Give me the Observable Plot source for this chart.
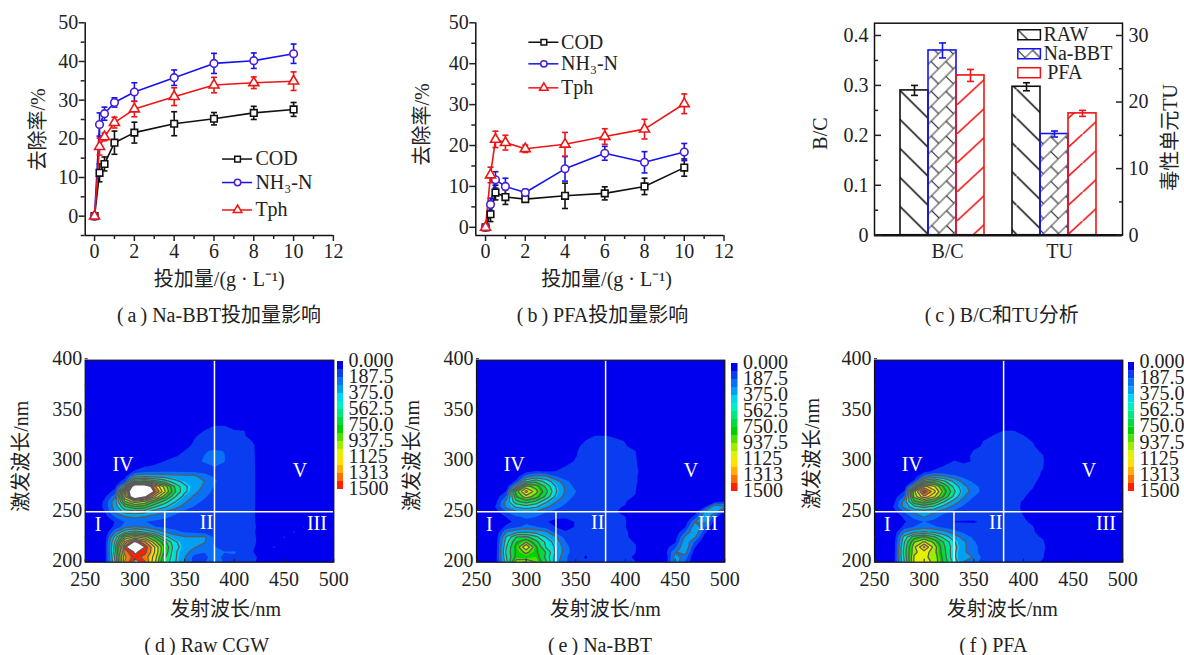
<!DOCTYPE html>
<html lang="zh"><head><meta charset="utf-8">
<style>
html,body{margin:0;padding:0;background:#fff;width:1184px;height:655px;overflow:hidden}
#page{position:relative;width:1184px;height:655px;font-family:'Liberation Serif','Noto Sans CJK SC',serif}
#page>svg,#page>div.p{position:absolute;overflow:visible}
.cap{position:absolute;transform:translate(-50%,calc(-50% - 2px));font-size:20px;white-space:nowrap;color:#222}
</style>
<script src="https://cdn.jsdelivr.net/npm/d3@7"></script>
<script src="https://cdn.jsdelivr.net/npm/@observablehq/plot@0.6"></script>
</head><body><div id="page"></div>
<script>
const FONT="'Liberation Serif','Noto Sans CJK SC',serif";
const doses=[0,0.25,0.5,1,2,4,6,8,10];
const seriesNames=["COD","NH3-N","Tph"];
const seriesLabels=["COD","NH₃-N","Tph"];
const seriesColors=["#111111","#1414f0","#f01414"];
const markerColors=["#111111","#4a1fd8","#f01414"];
const markerSymbols=["square","circle","triangle"];
const bbtCOD=[0,11.2,13.5,19,21.6,23.9,25.2,26.7,27.6];
const bbtCODerr=[0,2.3,1.8,3,2.7,3.1,1.6,1.7,1.8];
const bbtNH3=[0,23.7,26.5,29.4,32.1,35.8,39.5,40.2,42];
const bbtNH3err=[0,3,1.7,1.2,2.4,2,2.6,2,2.5];
const bbtTph=[0,18,20.5,24.2,27.7,30.9,33.9,34.5,34.9];
const bbtTpherr=[0,2.2,1,1.4,2,2.3,2,1.5,2.4];
const pfaCOD=[0,3.2,8.5,7.4,6.9,7.7,8.3,10,14.6];
const pfaCODerr=[0,1.8,1.8,1.8,0.7,3.1,1.6,2,2.1];
const pfaNH3=[0,5.6,11.6,10,8.5,14.3,18.1,15.9,18.4];
const pfaNH3err=[0,1.5,2,2,0.8,3,1.7,2.6,2.1];
const pfaTph=[0,12.8,21.5,20.7,19.2,20.3,22.2,24,30.2];
const pfaTpherr=[0,1.9,2,1.8,0.9,2.9,1.9,2.4,2.4];
const barGroups=["RAW","Na-BBT","PFA"];
const bcValues=[0.29,0.37,0.32];
const bcErr=[0.01,0.015,0.012];
const tuValues=[22.3,15.2,18.3];
const tuErr=[0.6,0.45,0.45];
const colorLevels=[93.75,187.5,281.25,375,468.75,562.5,656.25,750,843.75,937.5,1031.25,1125,1218.75,1312.5,1406.25,1500];
const colorRange=["#0000ee","#0a3cf0","#0a70f5","#00a0f5","#00d8f0","#00f0c0","#00e880","#00dc40","#00d000","#50e000","#a0ec00","#e4f000","#ffe000","#ffb000","#ff7000","#ff2000","#ffffff"];
const lineLevels=[281.25,406,531,656,781,906,1031,1156,1281,1406,1500];
const colorbarTicks=[0,187.5,375,562.5,750,937.5,1125,1312.5,1500];
const colorbarLabels=["0.000","187.5","375.0","562.5","750.0","937.5","1125","1313","1500"];
// excitation rows 200,205,...,340 nm; emission columns 250,260,...,500 nm (omitted tail = 0)
const rawRows=[
[0,0,60,520,1300,1560,1420,1050,620,420,300,150,180,230,180,150,130,100,60,40],
[0,0,60,560,1250,1480,1350,1100,680,430,290,150,170,220,170,170,150,110,50,30],
[0,0,60,600,1350,1520,1450,1150,760,430,320,230,190,190,190,200,130,90,50,60],
[0,0,60,600,1450,1900,1500,1150,780,460,340,290,230,190,170,130,110,95,70,100,60],
[0,0,60,560,1200,1550,1300,950,700,430,330,310,290,170,150,130,110,100,70,40,70],
[0,0,40,450,900,1050,950,750,450,330,290,290,300,170,150,130,110,100,60,30,100,60],
[0,0,20,260,500,600,520,400,280,220,180,170,140,130,130,120,110,100,40,0,40,100,50],
[0,0,10,120,240,290,250,190,170,150,130,120,110,100,100,100,110,105,40,0,0,60,100],
[0,0,20,100,190,210,190,170,150,130,120,110,110,105,105,105,105,100,40],
[0,0,60,200,280,300,280,240,210,170,140,120,110,105,105,105,105,100,30],
[0,0,100,300,450,480,450,340,280,220,170,140,120,110,105,105,105,100,30],
[0,10,130,330,650,780,730,550,430,330,240,180,140,120,110,105,105,100,30],
[0,10,120,360,900,1100,1000,780,600,420,300,220,170,130,115,110,105,100,30],
[0,0,80,250,1150,1800,1550,1150,850,550,360,260,200,150,125,110,105,100,30],
[0,0,40,130,1050,2150,2000,1450,1050,680,430,320,220,170,130,115,105,100,30],
[0,0,20,70,520,1900,1800,1300,980,650,430,340,260,180,140,120,110,100,30],
[0,0,0,30,150,750,800,720,600,450,370,330,280,200,150,125,110,100,30],
[0,0,0,20,60,350,380,370,350,330,320,310,210,180,160,130,110,100,30],
[0,0,0,0,30,110,150,170,170,170,170,170,170,180,160,135,115,100,30],
[0,0,0,0,0,40,90,100,110,120,130,150,170,190,175,140,115,100,20],
[0,0,0,0,0,0,60,80,95,110,130,170,195,205,190,140,115,100,10],
[0,0,0,0,0,0,0,40,70,90,105,150,190,205,190,140,115,100],
[0,0,0,0,0,0,0,0,40,70,95,115,180,200,185,130,110,98],
[0,0,0,0,0,0,0,0,0,40,85,100,130,150,140,120,105,95],
[0,0,0,0,0,0,0,0,0,0,60,97,115,125,120,115,105,90],
[0,0,0,0,0,0,0,0,0,0,20,90,105,115,115,110,100,60],
[0,0,0,0,0,0,0,0,0,0,0,60,97,110,105,100,95,30],
[0,0,0,0,0,0,0,0,0,0,0,0,60,96,95,60],
[]];
const bbtRows=[
[0,0,80,480,1000,1050,900,680,320,200,110,100,120,100,100,110,95,50,30,30,340,180],
[0,0,80,520,820,800,850,620,350,200,110,90,110,100,110,100,90,60,30,20,330,240],
[0,0,70,560,800,950,800,650,380,230,120,100,120,110,100,110,95,40,0,60,270,330,40],
[0,0,70,520,820,1150,800,520,380,220,120,100,105,100,100,120,100,0,0,50,170,380,100],
[0,0,60,480,760,900,700,500,340,190,110,100,110,100,100,105,90,0,0,0,80,370,170],
[0,0,50,420,650,680,560,400,290,140,120,100,100,110,100,100,80,0,0,0,50,300,300,50],
[0,0,30,280,350,390,350,300,150,100,110,100,110,105,100,105,60,0,0,0,20,190,380,110],
[0,0,0,120,170,210,190,140,90,60,100,110,100,110,105,95,30,0,0,0,0,80,370,200],
[0,0,0,60,120,170,140,100,70,60,100,100,100,110,110,100,0,0,0,0,0,30,280,320,40],
[0,0,0,100,180,200,190,130,110,110,105,100,100,105,100,95,0,0,0,0,0,0,130,380,130],
[0,0,70,190,270,290,270,200,160,130,110,105,100,100,98,60,0,0,0,0,0,0,40,300,360,60],
[0,0,110,310,430,480,430,310,220,160,120,105,105,105,100,90,0,0,0,0,0,0,0,90,380,300],
[0,0,80,320,620,720,620,430,290,200,140,115,110,110,105,100,40,0,0,0,0,0,0,0,60,100],
[0,0,50,200,780,980,850,620,380,230,170,125,115,115,110,105,90],
[0,0,20,100,850,1200,950,700,420,260,190,130,115,120,115,110,98],
[0,0,0,40,400,950,860,620,400,250,160,120,115,120,115,105,100,30],
[0,0,0,10,120,500,620,480,330,210,140,115,115,120,115,105,100,70],
[0,0,0,0,30,240,320,300,190,135,120,115,115,120,115,105,100,70],
[0,0,0,0,0,60,100,80,95,110,115,120,125,125,120,110,100,80],
[0,0,0,0,0,0,40,40,70,95,110,120,125,130,125,110,100,70],
[0,0,0,0,0,0,0,0,40,70,100,115,125,130,125,110,100,60],
[0,0,0,0,0,0,0,0,0,50,92,110,120,125,125,110,98,50],
[0,0,0,0,0,0,0,0,0,0,90,110,120,125,120,105,95],
[0,0,0,0,0,0,0,0,0,0,85,105,115,120,115,100,50],
[0,0,0,0,0,0,0,0,0,0,40,98,110,115,110,90],
[0,0,0,0,0,0,0,0,0,0,0,70,97,98,80],
[],[],[]];
const pfaRows=[
[0,0,80,520,1050,1100,1000,750,480,280,240,130,110,100,105,100,100,90,40,20],
[0,0,80,560,1050,1050,1000,720,430,290,280,150,120,110,100,100,105,95,50,30],
[0,0,70,580,1000,1100,960,700,430,300,220,140,110,110,105,100,110,98,60,40],
[0,0,70,560,1000,1300,980,680,450,300,220,140,120,115,105,105,110,100,70,60,40,10,60],
[0,0,60,520,900,1050,880,640,420,300,200,130,115,110,110,110,105,98,30,30,60],
[0,0,50,450,720,800,680,480,340,240,170,120,110,105,110,110,100,90,0,0,30,50],
[0,0,30,280,380,420,380,320,220,170,120,105,105,105,105,105,100,60],
[0,0,0,120,190,230,200,160,140,120,105,100,105,100,100,100,95,30],
[0,0,0,80,150,190,160,110,90,90,90,100,105,105,100,100,85],
[0,0,0,120,220,290,220,150,120,110,105,105,110,105,100,95,70],
[0,0,70,200,300,340,300,220,170,130,115,110,110,110,105,90,50],
[0,0,110,320,500,570,500,360,240,170,130,115,115,115,105,88,40],
[0,0,80,330,750,880,750,540,350,220,150,125,120,115,105,90,50],
[0,0,50,200,950,1250,1050,760,500,290,190,135,125,120,110,100,70],
[0,0,20,100,1000,1500,1200,850,560,340,230,160,130,120,110,100,90,30],
[0,0,0,40,450,1200,1050,760,500,310,220,150,130,125,115,105,95,50],
[0,0,0,10,120,620,720,560,380,240,170,125,125,125,120,110,100,80],
[0,0,0,0,30,230,330,300,210,160,125,120,125,125,120,110,100,90],
[0,0,0,0,0,60,110,100,110,115,115,120,125,125,120,110,100,92],
[0,0,0,0,0,0,60,97,105,110,112,118,125,125,120,110,105,95],
[0,0,0,0,0,0,0,60,98,80,100,115,120,125,120,112,105,98,30],
[0,0,0,0,0,0,0,0,70,85,100,112,120,125,120,112,105,95],
[0,0,0,0,0,0,0,0,0,60,97,110,120,125,120,112,105,85],
[0,0,0,0,0,0,0,0,0,30,80,100,115,120,118,110,100,40],
[0,0,0,0,0,0,0,0,0,0,50,96,110,115,115,108,90],
[0,0,0,0,0,0,0,0,0,0,0,60,100,110,110,100,40],
[0,0,0,0,0,0,0,0,0,0,0,0,70,97,97,60],
[],[]];
const regionNames=["I","II","III","IV","V"];
const regionEm=[263,372,483,288,466];
const regionEx=[237,239,238,297,291];

const page=document.getElementById("page");
const frameStyle={fontFamily:FONT,fontSize:"20px",color:"#222",background:"transparent",overflow:"visible"};
function place(svg,left,top){svg.style.left=left+"px";svg.style.top=top+"px";page.appendChild(svg);return svg;}
function label(text,ml,mt,px,py,rotate=0,size=20,anchor="middle"){
  return Plot.text([text],{text:d=>d,frameAnchor:"top-left",dx:px-ml,dy:py-mt,rotate,fontSize:size,fontFamily:FONT,fill:"#222",textAnchor:anchor,lineAnchor:"middle"});
}
const capSymbol=w=>({draw(c){c.moveTo(-w,0);c.lineTo(w,0);}});
function errorMarks(rows,color,w){
  return [
    Plot.ruleX(rows,{x:"x",y1:d=>d.y-d.e,y2:d=>d.y+d.e,stroke:color,strokeWidth:1.6}),
    Plot.dot(rows,{x:"x",y:d=>d.y+d.e,symbol:capSymbol(w),stroke:color,strokeWidth:1.6,fill:"none",r:3}),
    Plot.dot(rows,{x:"x",y:d=>d.y-d.e,symbol:capSymbol(w),stroke:color,strokeWidth:1.6,fill:"none",r:3})
  ];
}
function linePanel(o){
  const W=395,H=300,mb=H-235,mt=22.3;
  const marks=[];
  const minor=(ticks,anchor,len,xy)=>xy==="x"?Plot.axisX(ticks,{anchor,label:null,tickSize:len,tickFormat:()=>"",strokeWidth:1.5}):Plot.axisY(ticks,{anchor,label:null,tickSize:len,tickFormat:()=>"",strokeWidth:1.5});
  marks.push(Plot.ruleX([o.xd[0]],{y1:o.yd[0],y2:o.yd[1],stroke:"#111",strokeWidth:1.5}));
  marks.push(Plot.ruleY([o.yd[0]],{x1:o.xd[0],x2:o.xd[1],stroke:"#111",strokeWidth:1.5}));
  marks.push(minor([1,3,5,7,9,11],"bottom",4,"x"));
  marks.push(minor([5,15,25,35,45].concat(o.yd[0]<-4?[-5]:[]),"left",4,"y"));
  marks.push(Plot.axisX([0,2,4,6,8,10,12],{anchor:"bottom",tickSize:6,tickPadding:2,fontSize:20,fontFamily:FONT,label:null,strokeWidth:1.5,tickFormat:d=>String(d)}));
  marks.push(Plot.axisY([0,10,20,30,40,50],{anchor:"left",tickSize:6,tickPadding:1,fontSize:20,fontFamily:FONT,label:null,strokeWidth:1.5,tickFormat:d=>String(d)}));
  o.series.forEach((s,i)=>{
    const rows=doses.map((x,k)=>({x,y:s.v[k],e:s.e[k]}));
    marks.push(...errorMarks(rows.slice(1),seriesColors[i],3));
    marks.push(Plot.line(rows,{x:"x",y:"y",stroke:seriesColors[i],strokeWidth:1.6}));
  });
  o.series.forEach((s,i)=>{
    const rows=doses.map((x,k)=>({x,y:s.v[k]}));
    marks.push(Plot.dot(rows,{x:"x",y:"y",symbol:markerSymbols[i],r:i===1?3.8:3.7,stroke:markerColors[i],strokeWidth:1.6,fill:"#fff"}));
  });
  o.legendY.forEach((ly,i)=>{
    marks.push(Plot.ruleY([ly],{x1:o.legendX[0],x2:o.legendX[1],stroke:seriesColors[i],strokeWidth:1.5}));
    marks.push(Plot.dot([ly],{x:(o.legendX[0]+o.legendX[1])/2,y:d=>d,symbol:markerSymbols[i],r:3.2,stroke:markerColors[i],strokeWidth:1.5,fill:"#fff"}));
    marks.push(Plot.text([seriesLabels[i]],{x:o.legendX[2],y:ly,text:d=>d,textAnchor:"start",fontSize:20,fontFamily:FONT,fill:"#222"}));
  });
  marks.push(label("投加量/(g · L⁻¹)",o.ml,mt,o.xlab,279));
  marks.push(label("去除率/%",o.ml,mt,o.ylab[0],o.ylab[1],-90));
  const svg=Plot.plot({width:W,height:H,marginLeft:o.ml,marginRight:W-o.ml-248.2,marginTop:mt,marginBottom:mb,style:frameStyle,
    x:{domain:o.xd,axis:null},y:{domain:o.yd,axis:null},marks});
  place(svg,o.left,0);
}
linePanel({left:0,ml:84.7,xd:[-0.47,12],yd:[-5,50],xlab:218.7,ylab:[38,129],
  series:[{v:bbtCOD,e:bbtCODerr},{v:bbtNH3,e:bbtNH3err},{v:bbtTph,e:bbtTpherr}],
  legendX:[6.43,7.94,8.08],legendY:[14.77,8.7,1.6]});
linePanel({left:400,ml:75.3,xd:[-0.49,12],yd:[-2,50],xlab:206,ylab:[21.7,124],
  series:[{v:pfaCOD,e:pfaCODerr},{v:pfaNH3,e:pfaNH3err},{v:pfaTph,e:pfaTpherr}],
  legendX:[2.18,3.69,3.8],legendY:[45.25,39.97,34.1]});

(function(){
  const W=384,H=300,ml=74,mt=22.7,mr=62,mb=65.3;
  const k=0.4/30;
  const keys=["B/C|RAW","B/C|Na-BBT","B/C|PFA","gap","TU|RAW","TU|Na-BBT","TU|PFA"];
  const cols=["#111","#1414f0","#f01414"];
  const pats=["url(#hRaw)","url(#hBbt)","url(#hPfa)"];
  const marks=[];
  barGroups.forEach((g,i)=>{
    const rows=[{x:"B/C|"+g,y:bcValues[i],e:bcErr[i]},{x:"TU|"+g,y:tuValues[i]*k,e:tuErr[i]*k}];
    marks.push(Plot.barY(rows,{x:"x",y:"y",fill:pats[i],stroke:cols[i],strokeWidth:1.6,inset:0}));
    marks.push(...errorMarks(rows,cols[i],3.5));
  });
  marks.push(Plot.frame({stroke:"#111",strokeWidth:1.5}));
  marks.push(Plot.ruleY([0],{stroke:"#111",strokeWidth:2.5}));
  marks.push(Plot.axisX(["B/C|Na-BBT","TU|Na-BBT"],{anchor:"bottom",tickSize:0,tickPadding:9,dx:5,fontSize:20,fontFamily:FONT,label:null,tickFormat:d=>d.split("|")[0]}));
  marks.push(Plot.axisY([0,0.1,0.2,0.3,0.4],{anchor:"left",tickSize:-7,tickPadding:13,fontSize:20,fontFamily:FONT,label:null,strokeWidth:1.5,tickFormat:d=>d===0?"0":d.toFixed(1)}));
  marks.push(Plot.axisY([0.05,0.15,0.25,0.35],{anchor:"left",label:null,tickSize:-4,tickFormat:()=>"",strokeWidth:1.5}));
  marks.push(Plot.axisY([0,10,20,30].map(t=>t*k),{anchor:"right",tickSize:-7,tickPadding:13,fontSize:20,fontFamily:FONT,label:null,strokeWidth:1.5,tickFormat:d=>String(Math.round(d/k))}));
  marks.push(Plot.axisY([5,15,25].map(t=>t*k),{anchor:"right",label:null,tickSize:-4,tickFormat:()=>"",strokeWidth:1.5}));
  const sw={draw(c){c.rect(-11.3,-5,22.6,10);}};
  [34.3,53.3,72.3].forEach((py,i)=>{
    marks.push(Plot.dot([0],{frameAnchor:"top-left",dx:1028.6-874,dy:py-mt,r:5,symbol:sw,fill:["url(#lRaw)","url(#lBbt)","url(#lPfa)"][i],stroke:cols[i],strokeWidth:1.5}));
    marks.push(label(barGroups[i],ml,mt,i===2?246.7:243,py,0,20,"start"));
  });
  marks.push(label("B/C",ml,mt,20,133,-90));
  marks.push(label("毒性单元TU",ml,mt,370,137,-90));
  const svg=Plot.plot({width:W,height:H,marginLeft:ml,marginRight:mr,marginTop:mt,marginBottom:mb,style:frameStyle,
    x:{type:"band",domain:keys,padding:0,paddingOuter:0.8,axis:null},
    y:{domain:[0,0.4246],axis:null},marks});
  const defs=document.createElementNS("http://www.w3.org/2000/svg","defs");
  const pat=(id,w,h,tf,body)=>`<pattern id="${id}" patternUnits="userSpaceOnUse" width="${w}" height="${h}" patternTransform="${tf}">${body}</pattern>`;
  const brick=`<g stroke="#333" stroke-width="1.2" fill="none"><path d="M0,0H21M0,10.6H21M0,21.2H21M5,0V10.6M15.5,10.6V21.2"/></g>`;
  defs.innerHTML=
    pat("hRaw",29.47,29,"translate(98.7,89.3)",`<path d="M-2,-2L31.5,31" stroke="#000" stroke-width="1.5"/>`)+
    pat("hBbt",21,21.2,"translate(127.3,50) rotate(-45)",brick)+
    pat("hPfa",31.5,29,"translate(156.7,76)",`<path d="M-2,31L33.5,-2" stroke="#f01414" stroke-width="1.5"/>`)+
    pat("lRaw",22.6,10,"translate(-11.3,-5)",`<path d="M0,0L10,10" stroke="#111" stroke-width="1.2"/>`)+
    pat("lBbt",21,21.2,"rotate(-45)",brick)+
    pat("lPfa",30,30,"",`<path d="" />`);
  svg.insertBefore(defs,svg.firstChild);
  place(svg,800,0);
})();

function eemPanel(o){
  const W=345,H=305,mt=14.7,mb=H-216.7,fw=o.fw;
  const values=o.rows.flatMap(r=>Array.from({length:26},(_,i)=>r[i]||0));
  const grid={width:26,height:29,x1:245,x2:505,y1:197.5,y2:342.5,clip:true};
  const marks=[
    Plot.frame({fill:colorRange[0],stroke:null}),
    Plot.contour(values,{...grid,fill:Plot.identity,thresholds:colorLevels,stroke:"none"}),
    Plot.contour(values,{...grid,thresholds:lineLevels,stroke:"#5a5a5a",strokeWidth:1.3,fill:"none"}),
    Plot.ruleX([380],{y1:200,y2:400,stroke:"#fff",strokeWidth:1.5}),
    Plot.ruleX([330],{y1:200,y2:250,stroke:"#fff",strokeWidth:1.5}),
    Plot.ruleY([250],{x1:250,x2:500,stroke:"#fff",strokeWidth:1.5}),
    Plot.text(regionNames,{x:(d,i)=>regionEm[i],y:(d,i)=>regionEx[i],text:d=>d,fill:"#fff",fontSize:20,fontFamily:FONT}),
    Plot.frame({stroke:"#111",strokeWidth:1.2}),
    Plot.axisX([250,300,350,400,450,500],{anchor:"bottom",tickSize:-3,tickPadding:13,fontSize:20,fontFamily:FONT,label:null,tickFormat:d=>String(d)}),
    Plot.axisY([200,250,300,350,400],{anchor:"left",tickSize:-3,tickPadding:6,dy:-1.5,fontSize:20,fontFamily:FONT,label:null,tickFormat:d=>String(d)}),
    Plot.axisY([225,275,325,375],{anchor:"left",label:null,tickSize:-2,tickFormat:()=>""}),
    label("发射波长/nm",o.ml,mt,o.xlab,609-345),
    label("激发波长/nm",o.ml,mt,o.ylab[0],o.ylab[1],-90)
  ];
  const svg=Plot.plot({width:W,height:H,marginLeft:o.ml,marginRight:W-o.ml-fw,marginTop:mt,marginBottom:mb,style:frameStyle,
    x:{domain:[250,500],axis:null},y:{domain:[200,400],axis:null},
    color:{type:"threshold",domain:colorLevels,range:colorRange},marks});
  place(svg,o.left,345);
  const bands=[0,...colorLevels.slice(0,-1)].map((lo,i)=>({lo,hi:colorLevels[i]}));
  const cw=o.barW,ct=o.barTop,cb=o.barBottom;
  const bar=Plot.plot({width:cw+60,height:cb-ct+20,marginLeft:0,marginRight:60,marginTop:10,marginBottom:10,style:frameStyle,
    x:{domain:[0,1],axis:null},y:{domain:[0,1500],reverse:true,axis:null},
    color:{type:"threshold",domain:colorLevels,range:colorRange},
    marks:[
      Plot.rect(bands,{x1:0,x2:1,y1:"lo",y2:"hi",fill:"lo"}),
      Plot.axisY(colorbarTicks,{anchor:"right",tickSize:0,tickPadding:5,dy:-1,fontSize:20,fontFamily:FONT,label:null,tickFormat:d=>colorbarLabels[colorbarTicks.indexOf(d)]})
    ]});
  place(bar,o.barLeft,ct-10);
}
eemPanel({left:0,ml:84.7,fw:248.6,rows:rawRows,xlab:225,ylab:[20.7,110.8],barLeft:337,barW:6,barTop:361,barBottom:489});
eemPanel({left:400,ml:76,fw:248.3,rows:bbtRows,xlab:204.7,ylab:[12,110],barLeft:731,barW:6.5,barTop:363,barBottom:491});
eemPanel({left:800,ml:74,fw:248.3,rows:pfaRows,xlab:201.7,ylab:[12,108],barLeft:1128,barW:6,barTop:362,barBottom:491});

[["(\u2009a\u2009) Na-BBT投加量影响",219,315],["(\u2009b\u2009) PFA投加量影响",602.5,315],["(\u2009c\u2009) B/C和TU分析",1001.7,315],
 ["(\u2009d\u2009) Raw CGW",206.7,646.7],["(\u2009e\u2009) Na-BBT",600,646.7],["(\u2009f\u2009) PFA",993.3,646.7]].forEach(([t,x,y])=>{
  const c=document.createElement("div");c.className="cap";c.textContent=t;c.style.left=x+"px";c.style.top=y+"px";page.appendChild(c);
});
</script></body></html>
